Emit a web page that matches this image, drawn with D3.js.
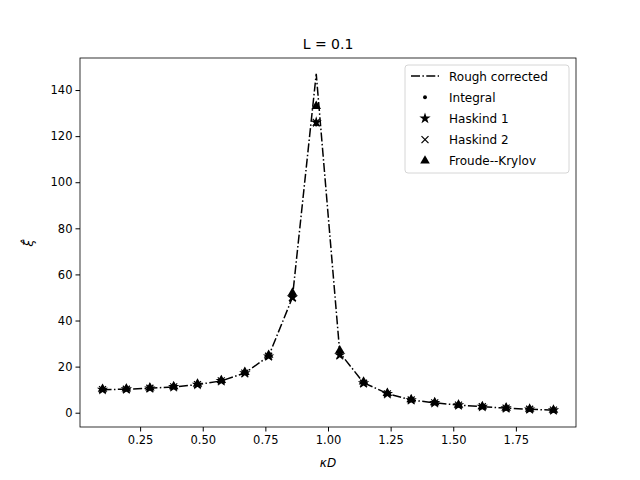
<!DOCTYPE html>
<html>
<head>
<meta charset="utf-8">
<script src="https://cdn.jsdelivr.net/npm/d3@7"></script>
<style>
body{margin:0;background:#fff}
text{font-family:"DejaVu Sans",sans-serif}
</style>
</head>
<body>
<script>
var w = 640, h = 480;
var kD = [0.1,0.195,0.289,0.384,0.479,0.574,0.668,0.763,0.858,0.953,1.047,1.142,1.237,1.332,1.426,1.521,1.616,1.711,1.805,1.9];
var rough = [10,10.2,10.6,11.2,12.2,13.8,17.2,24.5,50,147,26,13,8.3,5.5,4.3,3.3,2.6,2.0,1.5,1.1];
var integral = [10,10.2,10.6,11.2,12.2,13.8,17.2,24.5,50,125,25,12.8,8.2,5.5,4.3,3.3,2.6,2.0,1.5,1.1];
var haskind1 = [10,10.2,10.6,11.2,12.2,13.8,17.2,24.5,50,126,25,12.8,8.2,5.5,4.3,3.3,2.6,2.0,1.5,1.1];
var haskind2 = [10,10.2,10.6,11.2,12.2,13.8,17.2,24.5,50,126,25,12.8,8.2,5.5,4.3,3.3,2.6,2.0,1.5,1.1];
var froude = [10.3,10.4,10.8,11.4,12.5,14.1,17.6,25,52,133,27,13.4,8.5,5.7,4.4,3.4,2.7,2.1,1.6,1.2];
var xTicks = [0.25,0.5,0.75,1.0,1.25,1.5,1.75];
var yTicks = [0,20,40,60,80,100,120,140];

var L = 80, R = 576, T = 58, B = 427;
var svg = d3.select("body").append("svg").attr("width", w).attr("height", h);
var x = d3.scaleLinear().domain([0.01, 1.99]).range([L, R]);
var y = d3.scaleLinear().domain([-6.2, 153.9]).range([B, T]);

svg.append("g").attr("transform","translate(0,"+B+")")
  .call(d3.axisBottom(x).tickValues(xTicks).tickFormat(d3.format(".2f")).tickSizeOuter(0).tickSize(4.5))
  .call(g=>g.selectAll("text").attr("font-size",11.5).attr("fill","#000").attr("dy","0.85em"));
svg.append("g").attr("transform","translate("+L+",0)")
  .call(d3.axisLeft(y).tickValues(yTicks).tickSizeOuter(0).tickSize(4.5))
  .call(g=>g.selectAll("text").attr("font-size",11.5).attr("fill","#000"));
svg.selectAll(".domain").remove();
svg.append("rect").attr("x",L).attr("y",T).attr("width",R-L).attr("height",B-T)
  .attr("fill","none").attr("stroke","#000").attr("stroke-width",0.8);

svg.append("text").attr("x",(L+R)/2).attr("y",49).attr("text-anchor","middle").attr("font-size",14).text("L = 0.1");
svg.append("text").attr("x",(L+R)/2).attr("y",467).attr("text-anchor","middle").attr("font-size",12).attr("font-style","italic").text("κD");
svg.append("text").attr("transform","translate(33,243) rotate(-90)").attr("text-anchor","middle").attr("font-size",13).attr("font-style","italic").text("ξ̂");

var line = d3.line().x((d,i)=>x(kD[i])).y(d=>y(d));
svg.append("path").datum(rough).attr("d",line).attr("fill","none").attr("stroke","#000")
  .attr("stroke-width",1.5).attr("stroke-dasharray","9,2.4,1.5,2.4");

var sym = {
  dot: d3.symbol().type(d3.symbolCircle).size(12),
  star: d3.symbol().type(d3.symbolStar).size(40),
  tri: d3.symbol().type(d3.symbolTriangle).size(40)
};
function markers(data, kind) {
  var g = svg.append("g");
  data.forEach(function(v,i){
    var px = x(kD[i]), py = y(v);
    if (kind === "x") {
      g.append("path").attr("d","M-3.5,-3.5L3.5,3.5M-3.5,3.5L3.5,-3.5")
        .attr("transform","translate("+px+","+py+")").attr("stroke","#000").attr("stroke-width",1.2);
    } else {
      g.append("path").attr("d",sym[kind]()).attr("transform","translate("+px+","+py+")").attr("fill","#000");
    }
  });
}
markers(integral,"dot");
markers(haskind1,"star");
markers(haskind2,"x");
markers(froude,"tri");

// legend
var lg = svg.append("g").attr("transform","translate(405,65)");
lg.append("rect").attr("width",164).attr("height",108).attr("rx",3).attr("fill","#fff")
  .attr("stroke","#ccc").attr("stroke-width",0.8);
var items = [["Rough corrected","line"],["Integral","dot"],["Haskind 1","star"],["Haskind 2","x"],["Froude--Krylov","tri"]];
items.forEach(function(it,i){
  var cy = 11 + i*21.2;
  if (it[1]==="line") {
    lg.append("line").attr("x1",6).attr("x2",34).attr("y1",cy).attr("y2",cy).attr("stroke","#000")
      .attr("stroke-width",1.5).attr("stroke-dasharray","9,2.4,1.5,2.4");
  } else if (it[1]==="x") {
    lg.append("path").attr("d","M-3.5,-3.5L3.5,3.5M-3.5,3.5L3.5,-3.5").attr("transform","translate(20,"+cy+")")
      .attr("stroke","#000").attr("stroke-width",1.2);
  } else {
    lg.append("path").attr("d",sym[it[1]]()).attr("transform","translate(20,"+cy+")").attr("fill","#000");
  }
  lg.append("text").attr("x",44).attr("y",cy+4.5).attr("font-size",12).text(it[0]);
});
</script>
</body>
</html>
